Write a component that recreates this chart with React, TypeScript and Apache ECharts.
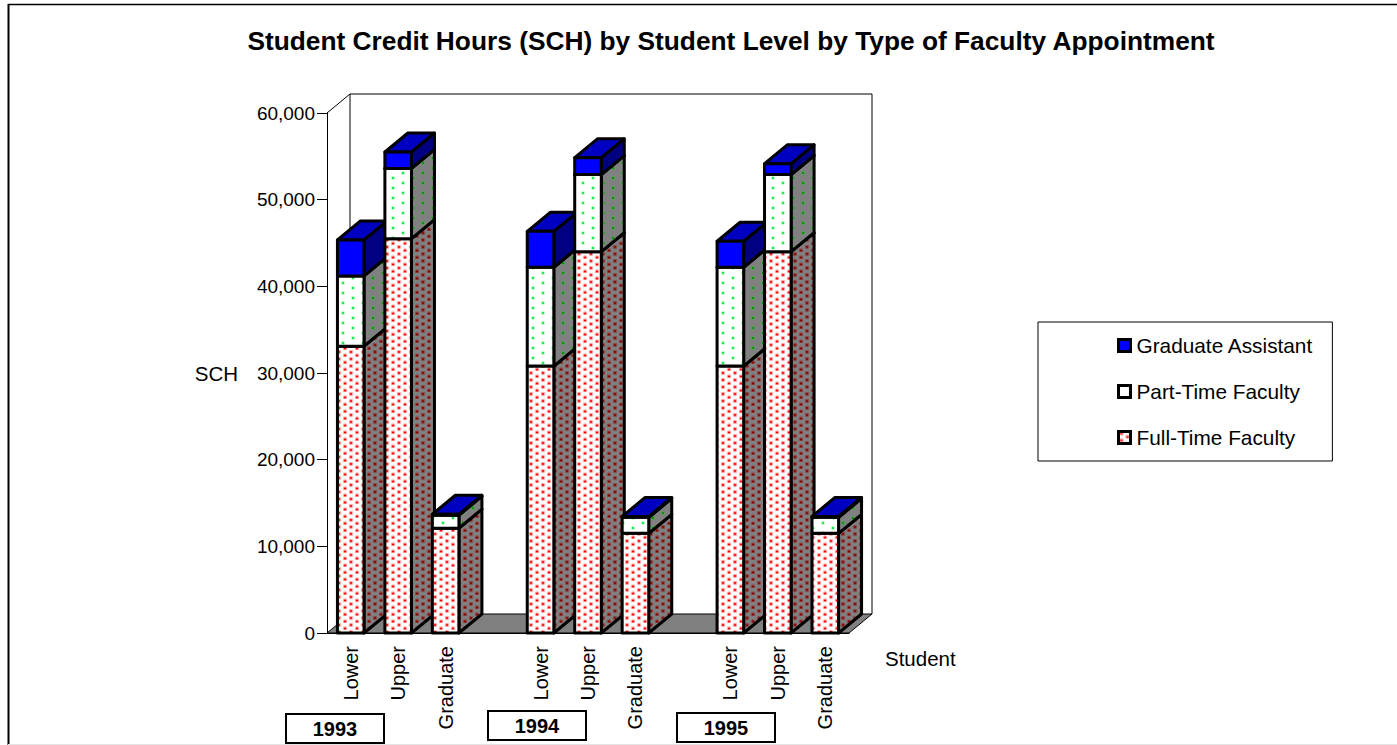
import React, { useEffect, useRef } from "react";
import * as echarts from "echarts";

const categories = ["Lower", "Upper", "Graduate", "", "Lower", "Upper", "Graduate", "", "Lower", "Upper", "Graduate"];
const fullTime = [33100, 45500, 12100, null, 30800, 44000, 11500, null, 30800, 44000, 11500];
const partTime = [8100, 8100, 1500, null, 11400, 8900, 1850, null, 11400, 8900, 1850];
const gradAssistant = [4150, 1900, 100, null, 4150, 1950, 100, null, 3000, 1250, 100];
const years = ["1993", "1994", "1995"];
const yearBoxes = [[286, 714], [488, 711], [677, 713]];
const FONT = "'Liberation Sans', Arial, sans-serif";
const DX = 23;
const DY = -19;

function dots(bg: string, dot: string, halo: string, w: number, h: number, pts: number[][], r: number, hr: number) {
  const c = document.createElement("canvas");
  c.width = w;
  c.height = h;
  const g = c.getContext("2d")!;
  g.fillStyle = bg;
  g.fillRect(0, 0, w, h);
  for (const [x, y] of pts) {
    g.fillStyle = halo;
    g.beginPath();
    g.arc(x, y, hr, 0, Math.PI * 2);
    g.fill();
    g.fillStyle = dot;
    g.beginPath();
    g.arc(x, y, r, 0, Math.PI * 2);
    g.fill();
  }
  return { image: c, repeat: "repeat" as const };
}

const redPts = [[3, 2], [9, 5.5]];
const greenPts = [[3, 3], [13, 8]];
const pat = () => ({
  fullFront: dots("#ffffff", "#ff0000", "#ffa8a8", 12, 7, redPts, 1.1, 2.3),
  fullSide: dots("#808080", "#8a0000", "#8a4a4a", 12, 7, redPts, 1.1, 2.3),
  partFront: dots("#ffffff", "#00e040", "#b0ffc0", 20, 10, greenPts, 1.1, 2),
  partSide: dots("#808080", "#008a00", "#50a050", 20, 10, greenPts, 1.1, 2),
});

export default function App() {
  const ref = useRef<HTMLDivElement>(null);
  useEffect(() => {
    document.body.style.margin = "0";
    const chart = echarts.init(ref.current!, null, { renderer: "svg" });
    const p = pat();
    const stroke = { stroke: "#000", lineWidth: 3, lineJoin: "round" as const };

    const box = (params: any, api: any, front: any, side: any, top: any) => {
      const i = api.value(0);
      if (api.value(2) == null || isNaN(api.value(2))) return { type: "group", children: [] };
      const a = api.coord([i, api.value(1)]);
      const b = api.coord([i, api.value(2)]);
      const w = api.size([1, 0])[0];
      const bw = w * 0.56;
      const l = a[0] - bw / 2;
      const r = a[0] + bw / 2;
      const z2 = i * 10 + params.seriesIndex;
      return {
        type: "group",
        children: [
          { type: "polygon", z2, shape: { points: [[r, a[1]], [r + DX, a[1] + DY], [r + DX, b[1] + DY], [r, b[1]]] }, style: { fill: side, ...stroke } },
          { type: "polygon", z2, shape: { points: [[l, b[1]], [l + DX, b[1] + DY], [r + DX, b[1] + DY], [r, b[1]]] }, style: { fill: top, ...stroke } },
          { type: "rect", z2: z2 + 1, shape: { x: l, y: b[1], width: bw, height: a[1] - b[1] }, style: { fill: front, ...stroke } },
        ],
      };
    };

    const stack = (vals: (number | null)[], under: (number | null)[][]) =>
      vals.map((v, i) => {
        const s = under.reduce((t, u) => t + (u[i] ?? 0), 0);
        return v == null ? [i, null, null] : [i, s, s + v];
      });

    const mk = (name: string, data: any[], front: any, side: any, top: any, legendColor: any) => ({
      type: "custom",
      name,
      coordinateSystem: "cartesian2d",
      data,
      encode: { x: 0, y: [1, 2] },
      itemStyle: { color: legendColor, borderColor: "#000", borderWidth: 3 },
      renderItem: (params: any, api: any) => box(params, api, front, side, top),
      clip: false,
      silent: true,
      z: 3,
    });

    chart.setOption({
      animation: false,
      backgroundColor: "#fff",
      textStyle: { fontFamily: FONT },
      title: {
        text: "Student Credit Hours (SCH) by Student Level by Type of Faculty Appointment",
        left: 726,
        top: 23,
        textAlign: "center",
        textStyle: { fontFamily: FONT, fontSize: 26.3, fontWeight: "bold", color: "#000" },
      },
      grid: { left: 327, top: 113, width: 522, height: 520, containLabel: false },
      legend: {
        orient: "vertical",
        left: 1038,
        top: 322,
        padding: [13, 19, 13, 79],
        itemGap: 25,
        itemWidth: 12,
        itemHeight: 12,
        borderColor: "#000",
        borderWidth: 1,
        backgroundColor: "#fff",
        textStyle: { fontFamily: FONT, fontSize: 20.8, color: "#000", padding: [0, 0, 0, 1] },
        data: [
          { name: "Graduate Assistant", icon: "rect", itemStyle: { color: "#0000ff", borderColor: "#000", borderWidth: 3 } },
          { name: "Part-Time Faculty", icon: "rect", itemStyle: { color: "#fff", borderColor: "#000", borderWidth: 3 } },
          { name: "Full-Time Faculty", icon: "rect", itemStyle: { color: p.fullFront, borderColor: "#000", borderWidth: 3 } },
        ],
      },
      xAxis: {
        type: "category",
        data: categories,
        boundaryGap: true,
        name: "Student",
        nameLocation: "end",
        nameGap: 36,
        nameTextStyle: { fontFamily: FONT, fontSize: 20.5, color: "#000", padding: [15, 0, 0, 0], verticalAlign: "top" },
        axisLine: { lineStyle: { color: "#000", width: 1 } },
        axisTick: { alignWithLabel: false, length: 12, lineStyle: { color: "#000", width: 1 } },
        axisLabel: { interval: 0, rotate: 90, margin: 13, fontFamily: FONT, fontSize: 20, color: "#000" },
        z: 2,
      },
      yAxis: {
        type: "value",
        min: 0,
        max: 60000,
        interval: 10000,
        name: "SCH",
        nameLocation: "middle",
        nameGap: 89,
        nameRotate: 0,
        nameTextStyle: { fontFamily: FONT, fontSize: 20.5, color: "#000" },
        axisLine: { show: true, lineStyle: { color: "#000", width: 1 } },
        axisTick: { show: true, length: 10, lineStyle: { color: "#000", width: 1 } },
        axisLabel: { margin: 12, fontFamily: FONT, fontSize: 19, color: "#000", formatter: (v: number) => v.toLocaleString("en-US") },
        splitLine: { show: false },
        z: 2,
      },
      graphic: [
        { type: "line", shape: { x1: 8.5, y1: 4, x2: 8.5, y2: 745 }, style: { stroke: "#000", lineWidth: 2 } },
        { type: "line", shape: { x1: 8, y1: 4.5, x2: 1397, y2: 4.5 }, style: { stroke: "#000", lineWidth: 1.5 } },
        { type: "line", shape: { x1: 8, y1: 744.5, x2: 1397, y2: 744.5 }, style: { stroke: "#e4e4e4", lineWidth: 1 } },
        ...years.flatMap((y, i) => [
          { type: "rect", shape: { x: yearBoxes[i][0], y: yearBoxes[i][1], width: 98, height: 29 }, style: { fill: "#fff", stroke: "#000", lineWidth: 2 } },
          { type: "text", x: yearBoxes[i][0] + 49, y: yearBoxes[i][1] + 15, style: { text: y, fontFamily: FONT, fontSize: 20, fontWeight: "bold", fill: "#000", align: "center", verticalAlign: "middle" } },
        ]),
      ],
      series: [
        {
          type: "custom",
          name: "walls",
          coordinateSystem: "cartesian2d",
          data: [[0]],
          silent: true,
          clip: false,
          z: 1,
          renderItem: (_: any, api: any) => {
            const w = api.size([1, 0])[0];
            const o = api.coord([0, 0]);
            const x0 = o[0] - w / 2;
            const x1 = x0 + w * categories.length;
            const yTop = api.coord([0, 60000])[1];
            const y0 = o[1];
            return {
              type: "group",
              children: [
                { type: "polygon", shape: { points: [[x0, y0], [x0 + DX, y0 + DY], [x1 + DX, y0 + DY], [x1, y0]] }, style: { fill: "#808080", stroke: "#000", lineWidth: 1 } },
                { type: "polyline", shape: { points: [[x0, yTop], [x0 + DX, yTop + DY], [x1 + DX, yTop + DY], [x1 + DX, y0 + DY]] }, style: { fill: "none", stroke: "#000", lineWidth: 1 } },
                { type: "line", shape: { x1: x0 + DX, y1: yTop + DY, x2: x0 + DX, y2: y0 + DY }, style: { stroke: "#000", lineWidth: 1 } },
              ],
            };
          },
        },
        mk("Full-Time Faculty", stack(fullTime, []), p.fullFront, p.fullSide, "#808080", p.fullFront),
        mk("Part-Time Faculty", stack(partTime, [fullTime]), p.partFront, p.partSide, "#808080", "#fff"),
        mk("Graduate Assistant", stack(gradAssistant, [fullTime, partTime]), "#0000ff", "#000080", "#0000c0", "#0000ff"),
      ],
    });
    return () => chart.dispose();
  }, []);
  return <div ref={ref} style={{ position: "absolute", left: 0, top: 0, width: 1397, height: 745 }} />;
}
